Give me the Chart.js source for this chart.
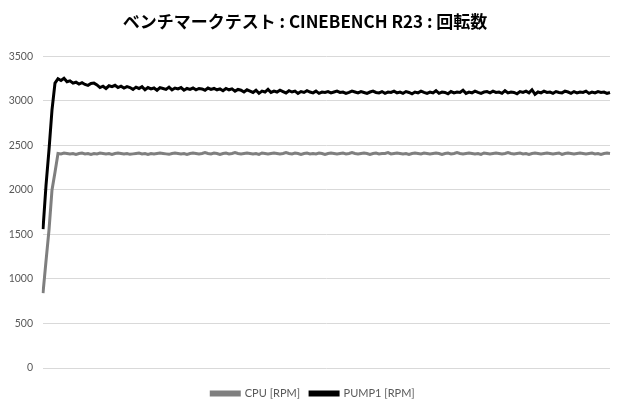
<!DOCTYPE html>
<html>
<head>
<meta charset="utf-8">
<script src="https://cdn.jsdelivr.net/npm/chart.js@4.4.0/dist/chart.umd.min.js"></script>
<style>
    html, body { margin: 0; padding: 0; background: #ffffff; }
    #wrap { width: 620px; height: 410px; }
</style>
</head>
<body>
<div id="wrap"><canvas id="rpmChart" width="620" height="410"></canvas></div>
<script>
const chartTitle = 'ベンチマークテスト : CINEBENCH R23 : 回転数';
const seriesNames = ['CPU [RPM]', 'PUMP1 [RPM]'];
const yTicks = [0, 500, 1000, 1500, 2000, 2500, 3000, 3500];

// values, one per sample
const cpuRpm = [
    840, 1200, 1550, 2000, 2200, 2410, 2405, 2415, 2410, 2405,
    2410, 2400, 2410, 2415, 2405, 2410, 2400, 2410, 2405, 2415,
    2410, 2405, 2410, 2400, 2410, 2415, 2410, 2405, 2410, 2400,
    2405, 2410, 2415, 2405, 2410, 2400, 2410, 2405, 2410, 2415,
    2410, 2405, 2400, 2410, 2415, 2410, 2405, 2410, 2400, 2410,
    2415, 2410, 2405, 2410, 2420, 2410, 2405, 2415, 2410, 2400,
    2410, 2415, 2405, 2410, 2420, 2410, 2405, 2410, 2415, 2410,
    2405, 2410, 2400, 2415, 2410, 2405, 2410, 2415, 2410, 2405,
    2410, 2420, 2410, 2405, 2415, 2410, 2400, 2410, 2415, 2405,
    2410, 2405, 2415, 2410, 2400, 2410, 2415, 2410, 2405, 2410,
    2415, 2405, 2410, 2420, 2410, 2405, 2410, 2415, 2410, 2400,
    2410, 2415, 2405, 2410, 2410, 2420, 2405, 2410, 2415, 2410,
    2405, 2410, 2400, 2410, 2415, 2410, 2405, 2415, 2410, 2405,
    2410, 2415, 2410, 2400, 2410, 2415, 2405, 2410, 2420, 2410,
    2405, 2410, 2415, 2410, 2405, 2410, 2400, 2415, 2410, 2405,
    2410, 2415, 2410, 2405, 2410, 2420, 2410, 2405, 2410, 2415,
    2405, 2410, 2400, 2410, 2415, 2410, 2405, 2410, 2415, 2410,
    2405, 2410, 2415, 2400, 2410, 2415, 2410, 2405, 2410, 2415,
    2410, 2405, 2410, 2415, 2405, 2410, 2400, 2410, 2415, 2410
];
const pumpRpm = [
    1560, 2050, 2450, 2900, 3200, 3250, 3230, 3255, 3215, 3225,
    3200, 3210, 3190, 3205, 3185, 3175, 3195, 3200, 3180, 3150,
    3165, 3140, 3170, 3160, 3175, 3150, 3165, 3145, 3160, 3150,
    3130, 3155, 3140, 3160, 3125, 3150, 3135, 3145, 3120, 3150,
    3140, 3130, 3155, 3125, 3145, 3135, 3150, 3120, 3140, 3130,
    3145, 3125, 3140, 3135, 3120, 3145, 3130, 3140, 3125, 3135,
    3115, 3140, 3125, 3135, 3110, 3130, 3120, 3100, 3125, 3110,
    3095, 3120, 3085, 3110, 3100, 3130, 3095, 3110, 3100, 3120,
    3105, 3090, 3115, 3100, 3110, 3085, 3105, 3095, 3115, 3100,
    3090, 3110, 3085, 3100, 3095, 3105, 3090, 3100, 3110, 3095,
    3100, 3085, 3095, 3110, 3100, 3090, 3105, 3095, 3085, 3100,
    3110, 3095, 3090, 3105, 3085, 3100, 3095, 3110, 3090, 3100,
    3085, 3105, 3095, 3080, 3100, 3090, 3110, 3095, 3085, 3100,
    3090, 3115, 3085, 3100, 3095, 3080, 3105, 3090, 3100, 3095,
    3120, 3085, 3100, 3090, 3110, 3095, 3085, 3100, 3105, 3090,
    3110, 3095, 3100, 3085, 3115, 3090, 3100, 3095, 3080, 3105,
    3095, 3110, 3090, 3125, 3075, 3100, 3090, 3110, 3095, 3100,
    3085, 3105, 3095, 3090, 3110, 3100, 3085, 3105, 3090, 3100,
    3095, 3110, 3085, 3100, 3090, 3105, 3095, 3100, 3085, 3095
];
const sampleLabels = cpuRpm.map((v, i) => i + 1);

// nudge the legend a little to the right, like the original
const legendShift = {
    id: 'legendShift',
    afterLayout(chart) {
        chart.legend.left += 8;
        chart.legend.right += 8;
    }
};

const ctx = document.getElementById('rpmChart').getContext('2d');
new Chart(ctx, {
    type: 'line',
    data: {
        labels: sampleLabels,
        datasets: [
            {
                label: seriesNames[0],
                data: cpuRpm,
                borderColor: '#7f7f7f',
                backgroundColor: '#7f7f7f',
                borderWidth: 3,
                pointRadius: 0,
                tension: 0
            },
            {
                label: seriesNames[1],
                data: pumpRpm,
                borderColor: '#000000',
                backgroundColor: '#000000',
                borderWidth: 3,
                pointRadius: 0,
                tension: 0
            }
        ]
    },
    options: {
        responsive: false,
        animation: false,
        layout: { padding: { left: 0, right: 10, top: 0, bottom: 1 } },
        plugins: {
            title: {
                display: true,
                text: chartTitle,
                color: '#000000',
                font: { family: '"Noto Sans CJK JP", "Noto Sans", sans-serif', size: 17, weight: 'bold' },
                padding: { top: 11, bottom: 25 }
            },
            legend: {
                position: 'bottom',
                labels: {
                    boxWidth: 28,
                    boxHeight: 3,
                    color: '#595959',
                    font: { family: 'Lato, sans-serif', size: 11 },
                    padding: 10
                }
            },
            tooltip: { enabled: false }
        },
        scales: {
            x: {
                display: true,
                afterFit: scale => {
                    scale.height = 10;
                },
                border: { display: false },
                grid: { display: false },
                ticks: { display: false }
            },
            y: {
                min: 0,
                max: 3500,
                afterBuildTicks: scale => {
                    scale.ticks = yTicks.map(v => ({ value: v }));
                },
                afterFit: scale => {
                    scale.width = 43;
                },
                border: { display: false },
                grid: { color: '#d9d9d9', lineWidth: 1, drawTicks: false },
                ticks: {
                    color: '#595959',
                    font: { family: 'Lato, sans-serif', size: 10.5 },
                    padding: 10,
                    callback: value => String(value)
                }
            }
        }
    },
    plugins: [legendShift]
});
</script>
</body>
</html>
